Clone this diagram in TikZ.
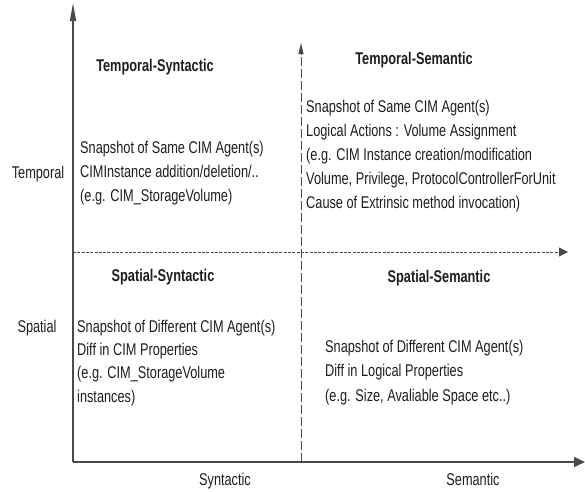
\documentclass[tikz,border=0pt]{standalone}
\usepackage{fontspec}
\setmainfont{Liberation Sans}[FakeStretch=0.75]
\usetikzlibrary{arrows.meta}
\definecolor{txt}{HTML}{1E1E1E}
\definecolor{axis}{HTML}{4A4A4A}
\begin{document}
\begin{tikzpicture}[x=1pt,y=-1pt,
  lbl/.style={inner sep=0pt,text=txt,font=\fontsize{17pt}{23.5pt}\selectfont},
  ttl/.style={lbl,font=\fontsize{17pt}{23.5pt}\selectfont\bfseries},
  blk/.style={lbl,align=left,anchor=base west},
  axisline/.style={draw=axis,line width=1.4pt},
]
\useasboundingbox (0,0) rectangle (585,491);
% axes
\coordinate (O) at (73,462);
\coordinate (ytop) at (73,3);
\coordinate (xend) at (585,462);
\coordinate (dvb) at (301,462);
\coordinate (dvt) at (301,43);
\coordinate (dhl) at (73,252);
\coordinate (dhr) at (568,252);
\draw[axisline,-{Triangle[length=18pt,width=6pt]}] (O) -- (ytop);
\draw[axisline,-{Triangle[length=11pt,width=10pt]}] (O) -- (xend);
\draw[draw=axis,line width=0.9pt,dash pattern=on 9pt off 3pt,-{Triangle[length=11pt,width=5pt]}] (dvb) -- (dvt);
\draw[draw=axis,line width=0.9pt,dash pattern=on 3pt off 1.3pt,-{Triangle[length=9pt,width=9pt]}] (dhl) -- (dhr);
% titles
\node[ttl,anchor=base] (tsyn) at (155,71) {Temporal-Syntactic};
\node[ttl,anchor=base] (tsem) at (414,64) {Temporal-Semantic};
\node[ttl,anchor=base] (ssyn) at (163,281) {Spatial-Syntactic};
\node[ttl,anchor=base] (ssem) at (439,282) {Spatial-Semantic};
% blocks (anchor = baseline of last line)
\node[blk,font=\fontsize{17pt}{24pt}\selectfont] (tsynb) at (80,201) {Snapshot of Same CIM Agent(s)\\CIMInstance addition/deletion/..\\(e.g. CIM\_StorageVolume)};
\node[blk,font=\fontsize{17pt}{24pt}\selectfont] (tsemb) at (306,208) {Snapshot of Same CIM Agent(s)\\Logical Actions : Volume Assignment\\(e.g. CIM Instance creation/modification\\Volume, Privilege, ProtocolControllerForUnit\\Cause of Extrinsic method invocation)};
\node[blk,font=\fontsize{17pt}{23.3pt}\selectfont] (ssynb) at (77,402) {Snapshot of Different CIM Agent(s)\\Diff in CIM Properties\\(e.g. CIM\_StorageVolume\\instances)};
\node[blk,font=\fontsize{17pt}{24.5pt}\selectfont] (ssemb) at (325,401) {Snapshot of Different CIM Agent(s)\\Diff in Logical Properties\\(e.g. Size, Avaliable Space etc..)};
% axis labels
\node[lbl,anchor=base] (ltemp) at (38,178) {Temporal};
\node[lbl,anchor=base] (lspat) at (37,332) {Spatial};
\node[lbl,anchor=base] (lsyn) at (225,485) {Syntactic};
\node[lbl,anchor=base] (lsem) at (473,485) {Semantic};
\end{tikzpicture}
\end{document}
